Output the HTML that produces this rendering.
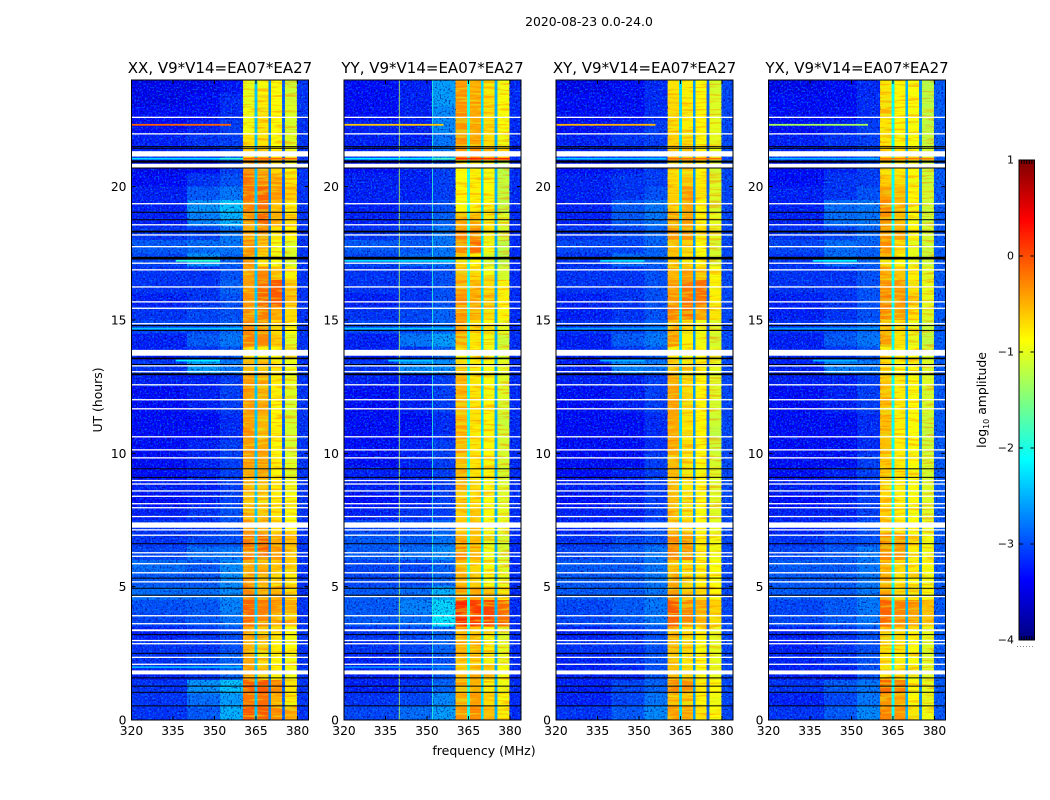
<!DOCTYPE html>
<html>
<head>
<meta charset="utf-8">
<title>2020-08-23 0.0-24.0</title>
<style>
html,body{margin:0;padding:0;background:#fff;}
svg{display:block;}
text{font-family:"DejaVu Sans","Liberation Sans",sans-serif;fill:#000;}
</style>
</head>
<body>
<svg id="chart" xmlns="http://www.w3.org/2000/svg" width="1050" height="800" viewBox="0 0 1050 800">
<defs>
<filter id="speckle-dark" x="0" y="0" width="1" height="1" color-interpolation-filters="sRGB">
<feTurbulence type="fractalNoise" baseFrequency="0.55" numOctaves="2" seed="4"/>
<feColorMatrix type="matrix" values="0 0 0 0 0  0 0 0 0 0  0 0 0 0 0.45  6 0 0 0 -3.2"/>
</filter>
<filter id="speckle-light" x="0" y="0" width="1" height="1" color-interpolation-filters="sRGB">
<feTurbulence type="fractalNoise" baseFrequency="0.55" numOctaves="2" seed="11"/>
<feColorMatrix type="matrix" values="0 0 0 0 0  0 0 0 0 0.7  0 0 0 0 1  6 0 0 0 -3.2"/>
</filter>
<filter id="stripe-warm" x="0" y="0" width="1" height="1" color-interpolation-filters="sRGB">
<feTurbulence type="fractalNoise" baseFrequency="0.04 0.45" numOctaves="2" seed="7"/>
<feColorMatrix type="matrix" values="0 0 0 0 1  0 0 0 0 0.42  0 0 0 0 0  6 0 0 0 -3"/>
</filter>
<filter id="stripe-cool" x="0" y="0" width="1" height="1" color-interpolation-filters="sRGB">
<feTurbulence type="fractalNoise" baseFrequency="0.04 0.45" numOctaves="2" seed="19"/>
<feColorMatrix type="matrix" values="0 0 0 0 0.85  0 0 0 0 1  0 0 0 0 0.1  6 0 0 0 -3"/>
</filter>
</defs>
<rect width="1050" height="800" fill="#fff"/>
<text x="589" y="26" font-size="12.4" text-anchor="middle">2020-08-23 0.0-24.0</text>
<text x="484" y="755" font-size="12.5" text-anchor="middle">frequency (MHz)</text>
<text transform="translate(102,400) rotate(-90)" font-size="12.4" text-anchor="middle">UT (hours)</text>
<g id="panels"></g>
<g id="colorbar"></g>
<text transform="translate(986,400) rotate(-90)" font-size="12.4" text-anchor="middle">log<tspan font-size="8" dy="3">10</tspan><tspan dy="-3"> amplitude</tspan></text>
</svg>
<script>
// Frequency channel edges (MHz): background, bands and the gaps between them
const freqEdges = [320, 340, 352, 360.4, 364.5, 365.5, 369.5, 370.5, 374.5, 375.5, 379.8, 384];
const freqTicks = [320, 335, 350, 365, 380];
const hourTicks = [0, 5, 10, 15, 20];
const colorTicks = [1, 0, -1, -2, -3, -4];
const panelTitles = ["XX, V9*V14=EA07*EA27", "YY, V9*V14=EA07*EA27", "XY, V9*V14=EA07*EA27", "YX, V9*V14=EA07*EA27"];

// log10 amplitude per half-hour row (0 h first): 320-340, 340-352, 352-360, band1, band2, band3, band4
const xxRows = [
[-3.15,-2.95,-2.5,-0.05,-0.05,-0.3,-0.45],[-3.15,-2.85,-2.6,-0.2,-0.15,-0.5,-0.8],[-3.15,-2.65,-2.4,-0.1,-0.05,-0.3,-0.75],[-3.25,-3.15,-2.9,-0.4,-0.6,-0.8,-0.95],
[-3.15,-3.05,-2.9,-0.45,-0.7,-0.85,-0.95],[-3.15,-3.15,-3.0,-0.5,-0.6,-0.8,-0.9],[-3.25,-3.15,-3.0,-0.45,-0.6,-0.75,-0.9],[-3.05,-2.95,-2.8,-0.15,-0.3,-0.5,-0.6],
[-3.0,-2.95,-2.75,-0.1,-0.25,-0.35,-0.45],[-2.85,-2.85,-2.7,-0.3,-0.5,-0.5,-0.7],[-2.95,-2.95,-2.7,-0.35,-0.5,-0.7,-0.8],[-2.85,-2.95,-2.7,-0.45,-0.5,-0.6,-0.7],
[-3.05,-2.85,-2.8,-0.25,-0.1,-0.4,-0.6],[-3.15,-3.05,-3.0,-0.2,-0.1,-0.45,-0.55],[-3.15,-3.15,-3.0,-0.4,-0.45,-0.7,-0.85],[-3.25,-3.15,-3.0,-0.5,-0.6,-0.75,-0.9],
[-3.35,-3.25,-3.1,-0.6,-0.65,-0.8,-0.9],[-3.25,-3.25,-3.1,-0.5,-0.6,-0.8,-0.95],[-3.35,-3.25,-3.1,-0.45,-0.45,-0.85,-1.05],[-3.35,-3.25,-3.1,-0.4,-0.45,-0.8,-1.05],
[-3.35,-3.25,-3.1,-0.4,-0.45,-0.85,-1.1],[-3.35,-3.35,-3.2,-0.35,-0.5,-0.8,-1.1],[-3.35,-3.35,-3.2,-0.4,-0.5,-0.85,-1.1],[-3.35,-3.25,-3.1,-0.35,-0.45,-0.85,-1.1],
[-3.35,-3.25,-3.1,-0.4,-0.45,-0.8,-1.05],[-3.25,-3.25,-3.1,-0.4,-0.5,-0.8,-1.0],[-3.15,-2.6,-2.8,-0.55,-0.6,-0.75,-0.95],[-3.25,-3.15,-3.0,-0.75,-0.8,-0.85,-1.0],
[-3.25,-2.95,-2.8,-0.25,-0.3,-0.6,-1.05],[-3.05,-3.05,-2.9,-0.3,-0.35,-0.7,-0.9],[-3.15,-3.05,-3.0,-0.35,-0.25,-0.45,-0.7],[-3.25,-3.15,-3.0,-0.35,-0.1,-0.05,-0.55],
[-3.15,-3.15,-2.9,-0.4,-0.15,-0.05,-0.6],[-3.15,-3.15,-3.0,-0.4,-0.3,-0.55,-0.8],[-3.05,-2.65,-2.9,-0.35,-0.75,-0.95,-1.1],[-2.95,-2.85,-2.8,-0.35,-0.6,-0.95,-1.05],
[-3.15,-3.05,-2.8,-0.45,-0.3,-0.75,-0.85],[-3.25,-2.75,-2.5,-0.35,-0.15,-0.45,-0.65],[-3.25,-2.65,-2.4,-0.25,-0.15,-0.55,-0.8],[-3.25,-2.95,-2.8,-0.2,-0.1,-0.4,-0.65],
[-3.35,-3.15,-3.0,-0.2,-0.3,-0.45,-0.75],[-3.45,-3.35,-3.1,-0.35,-0.4,-0.7,-0.9],[-3.25,-3.25,-3.1,-0.7,-0.6,-0.8,-1.0],[-3.25,-3.15,-3.1,-0.75,-0.75,-0.9,-1.05],
[-3.35,-3.25,-3.1,-0.95,-0.75,-0.9,-1.1],[-3.35,-3.35,-3.2,-0.95,-0.75,-0.85,-1.05],[-3.45,-3.35,-3.2,-1.0,-0.8,-0.9,-1.1],[-3.45,-3.45,-3.3,-1.0,-0.85,-0.9,-1.15]
];
const yyRows = [
[-3.05,-2.85,-2.6,-0.4,-0.3,-0.55,-0.8],[-3.15,-3.05,-2.7,-0.45,-0.4,-0.7,-0.9],[-3.25,-3.15,-2.9,-0.5,-0.5,-0.8,-0.95],[-3.25,-3.25,-3.0,-0.55,-0.45,-0.6,-0.9],
[-3.25,-3.15,-3.0,-0.6,-0.6,-0.8,-1.0],[-3.15,-3.05,-2.9,-0.5,-0.55,-0.8,-1.0],[-3.15,-3.05,-2.9,-0.5,-0.6,-0.85,-1.05],[-2.95,-2.85,-2.2,0.15,0.1,0.05,-0.1],
[-2.95,-2.75,-2.3,0.2,0.1,0.05,-0.15],[-2.95,-2.85,-2.5,-0.35,-0.45,-0.6,-0.75],[-3.05,-3.05,-2.9,-0.55,-0.65,-0.9,-1.0],[-3.05,-3.05,-2.9,-0.5,-0.7,-0.9,-1.05],
[-2.95,-2.85,-2.7,-0.35,-0.5,-0.95,-1.1],[-2.95,-2.95,-2.8,-0.45,-0.55,-1.0,-1.1],[-3.05,-3.05,-2.9,-0.6,-0.55,-0.85,-1.0],[-3.25,-3.15,-3.1,-0.65,-0.6,-0.85,-1.0],
[-3.35,-3.25,-3.1,-0.6,-0.7,-0.9,-1.05],[-3.25,-3.25,-3.1,-0.55,-0.7,-0.85,-1.05],[-3.25,-3.25,-3.1,-0.5,-0.75,-0.85,-1.1],[-3.35,-3.25,-3.1,-0.55,-0.75,-0.85,-1.1],
[-3.35,-3.25,-3.1,-0.5,-0.75,-0.85,-1.1],[-3.35,-3.35,-3.2,-0.55,-0.8,-0.85,-1.1],[-3.35,-3.35,-3.2,-0.55,-0.75,-0.85,-1.15],[-3.35,-3.25,-3.1,-0.55,-0.75,-0.85,-1.1],
[-3.35,-3.25,-3.1,-0.5,-0.75,-0.85,-1.05],[-3.25,-3.25,-3.1,-0.5,-0.75,-0.85,-1.05],[-3.15,-2.7,-2.7,-0.7,-0.8,-0.9,-1.0],[-3.25,-3.15,-2.9,-0.75,-0.85,-0.95,-1.1],
[-3.25,-2.8,-2.6,-0.45,-0.75,-0.95,-1.15],[-3.05,-3.05,-2.9,-0.45,-0.7,-0.85,-1.0],[-3.15,-3.05,-2.9,-0.4,-0.5,-0.7,-0.85],[-3.25,-3.15,-3.0,-0.35,-0.45,-0.6,-0.8],
[-3.15,-3.15,-3.0,-0.45,-0.5,-0.7,-0.8],[-3.15,-3.15,-3.0,-0.55,-0.7,-0.95,-1.1],[-3.05,-2.85,-2.8,-0.7,-0.85,-1.1,-1.25],[-2.95,-2.95,-2.8,-0.3,-0.15,-0.95,-1.25],
[-3.15,-3.05,-2.8,-0.35,-0.35,-0.75,-1.1],[-3.25,-3.15,-2.9,-0.5,-0.5,-0.75,-1.05],[-3.25,-3.15,-3.0,-0.85,-0.8,-0.85,-1.2],[-3.25,-3.25,-3.1,-0.85,-0.8,-0.85,-1.2],
[-3.25,-3.25,-3.1,-0.9,-0.8,-0.9,-1.2],[-3.35,-3.25,-3.1,-0.85,-0.8,-0.85,-1.25],[-3.25,-3.15,-2.8,-0.4,-0.35,-0.55,-0.75],[-3.25,-3.25,-2.8,-0.35,-0.45,-0.7,-0.95],
[-3.25,-3.25,-2.7,-0.35,-0.45,-0.7,-0.9],[-3.35,-3.25,-2.7,-0.35,-0.45,-0.7,-0.9],[-3.35,-3.25,-2.6,-0.35,-0.45,-0.7,-0.9],[-3.35,-3.25,-2.6,-0.4,-0.5,-0.75,-0.95]
];
const xyRows = [
[-3.15,-2.95,-2.7,-0.4,-0.5,-0.75,-0.9],[-3.25,-3.05,-2.8,-0.55,-0.6,-0.85,-0.95],[-3.25,-3.05,-2.9,-0.3,-0.35,-0.8,-0.9],[-3.25,-3.25,-3.0,-0.55,-0.7,-0.9,-1.0],
[-3.25,-3.15,-3.0,-0.6,-0.75,-0.85,-1.0],[-3.15,-3.15,-3.0,-0.55,-0.7,-0.9,-1.0],[-3.25,-3.15,-3.0,-0.5,-0.7,-0.85,-1.0],[-3.05,-2.95,-2.8,-0.1,-0.3,-0.5,-0.7],
[-3.05,-2.95,-2.8,-0.05,-0.3,-0.45,-0.65],[-2.95,-2.95,-2.8,-0.4,-0.6,-0.7,-0.85],[-2.95,-2.95,-2.8,-0.45,-0.7,-0.8,-0.9],[-2.95,-2.95,-2.8,-0.55,-0.7,-0.8,-0.9],
[-3.05,-2.95,-2.8,-0.3,-0.35,-0.8,-0.95],[-3.15,-3.05,-3.0,-0.3,-0.4,-0.8,-0.95],[-3.25,-3.15,-3.0,-0.55,-0.65,-0.85,-1.0],[-3.25,-3.25,-3.1,-0.55,-0.7,-0.9,-1.05],
[-3.35,-3.25,-3.1,-0.55,-0.75,-0.85,-1.05],[-3.25,-3.25,-3.1,-0.55,-0.75,-0.85,-1.05],[-3.35,-3.25,-3.1,-0.55,-0.75,-0.9,-1.05],[-3.35,-3.35,-3.1,-0.55,-0.75,-0.85,-1.1],
[-3.35,-3.35,-3.2,-0.45,-0.7,-0.85,-1.15],[-3.35,-3.35,-3.2,-0.45,-0.8,-0.85,-1.2],[-3.35,-3.35,-3.2,-0.45,-0.75,-0.85,-1.15],[-3.35,-3.25,-3.1,-0.4,-0.75,-0.85,-1.1],
[-3.35,-3.25,-3.1,-0.4,-0.7,-0.85,-1.05],[-3.25,-3.25,-3.1,-0.45,-0.7,-0.85,-1.05],[-3.25,-2.75,-2.8,-0.6,-0.75,-0.85,-1.0],[-3.25,-3.15,-3.0,-0.8,-0.85,-0.9,-1.0],
[-3.25,-2.95,-2.8,-0.4,-0.8,-0.95,-1.1],[-3.15,-3.05,-2.9,-0.5,-0.7,-0.95,-1.05],[-3.25,-3.15,-3.0,-0.3,-0.2,-0.45,-0.75],[-3.25,-3.15,-3.0,-0.35,-0.2,-0.2,-0.8],
[-3.15,-3.15,-3.0,-0.4,-0.2,-0.15,-0.8],[-3.15,-3.15,-3.0,-0.5,-0.4,-0.6,-0.9],[-3.15,-2.85,-2.9,-0.6,-0.75,-0.9,-1.1],[-3.05,-3.05,-2.9,-0.55,-0.65,-0.9,-1.1],
[-3.15,-3.05,-2.9,-0.4,-0.35,-0.8,-1.0],[-3.25,-2.95,-2.8,-0.45,-0.45,-0.85,-1.0],[-3.25,-2.95,-2.8,-0.65,-0.45,-0.85,-1.1],[-3.25,-3.15,-3.0,-0.65,-0.35,-0.75,-1.05],
[-3.25,-3.15,-3.1,-0.7,-0.55,-0.8,-1.05],[-3.35,-3.25,-3.1,-0.75,-0.7,-0.85,-1.1],[-3.25,-3.25,-3.1,-0.6,-0.6,-0.8,-1.0],[-3.25,-3.15,-3.1,-0.65,-0.75,-0.85,-1.0],
[-3.35,-3.25,-3.1,-0.7,-0.8,-0.85,-1.0],[-3.35,-3.35,-3.2,-0.7,-0.8,-0.85,-1.05],[-3.35,-3.35,-3.2,-0.7,-0.8,-0.85,-1.05],[-3.45,-3.35,-3.2,-0.75,-0.8,-0.9,-1.1]
];
const yxRows = [
[-3.15,-2.95,-2.7,-0.3,-0.35,-0.75,-0.95],[-3.25,-3.05,-2.8,-0.35,-0.45,-0.85,-1.0],[-3.15,-2.95,-2.8,-0.15,-0.25,-0.85,-1.0],[-3.25,-3.25,-3.0,-0.7,-0.75,-0.95,-1.05],
[-3.25,-3.15,-3.0,-0.75,-0.8,-0.9,-1.05],[-3.25,-3.15,-3.0,-0.7,-0.75,-0.9,-1.05],[-3.25,-3.15,-3.0,-0.6,-0.7,-0.85,-1.0],[-3.05,-2.95,-2.8,-0.15,-0.3,-0.45,-0.6],
[-3.05,-2.95,-2.8,-0.1,-0.25,-0.35,-0.55],[-2.95,-2.95,-2.8,-0.45,-0.7,-0.75,-0.85],[-2.95,-2.95,-2.8,-0.5,-0.75,-0.85,-0.95],[-2.95,-2.95,-2.8,-0.55,-0.7,-0.8,-0.9],
[-3.05,-2.95,-2.8,-0.3,-0.35,-0.8,-0.95],[-3.15,-3.05,-3.0,-0.3,-0.4,-0.75,-0.95],[-3.25,-3.15,-3.0,-0.6,-0.75,-0.85,-1.0],[-3.25,-3.25,-3.1,-0.65,-0.8,-0.9,-1.05],
[-3.35,-3.25,-3.1,-0.7,-0.8,-0.85,-1.05],[-3.25,-3.25,-3.1,-0.7,-0.8,-0.9,-1.05],[-3.35,-3.25,-3.1,-0.6,-0.75,-0.9,-1.1],[-3.35,-3.35,-3.1,-0.6,-0.8,-0.85,-1.1],
[-3.35,-3.35,-3.2,-0.55,-0.8,-0.9,-1.15],[-3.35,-3.35,-3.2,-0.55,-0.85,-0.9,-1.2],[-3.35,-3.35,-3.2,-0.55,-0.8,-0.9,-1.15],[-3.35,-3.25,-3.1,-0.55,-0.8,-0.9,-1.1],
[-3.35,-3.25,-3.1,-0.55,-0.8,-0.9,-1.1],[-3.25,-3.25,-3.1,-0.6,-0.8,-0.9,-1.05],[-3.25,-2.75,-2.8,-0.7,-0.85,-0.9,-1.05],[-3.25,-3.15,-3.0,-0.8,-0.85,-0.9,-1.1],
[-3.25,-2.95,-2.8,-0.4,-0.75,-1.0,-1.2],[-3.15,-3.05,-2.9,-0.55,-0.7,-0.95,-1.15],[-3.25,-3.15,-3.0,-0.3,-0.4,-0.75,-1.05],[-3.25,-3.15,-3.0,-0.25,-0.35,-0.6,-1.0],
[-3.15,-3.15,-3.0,-0.35,-0.35,-0.7,-1.0],[-3.15,-3.15,-3.0,-0.5,-0.6,-0.8,-1.05],[-3.15,-2.85,-2.9,-0.7,-0.85,-1.0,-1.15],[-3.05,-2.85,-2.9,-0.35,-0.7,-1.0,-1.15],
[-3.15,-3.05,-2.9,-0.4,-0.45,-0.85,-1.1],[-3.25,-2.85,-2.8,-0.35,-0.55,-0.9,-1.15],[-3.25,-2.85,-2.8,-0.3,-0.55,-0.9,-1.15],[-3.25,-3.15,-3.0,-0.4,-0.55,-0.85,-1.1],
[-3.35,-3.15,-3.1,-0.65,-0.7,-0.9,-1.15],[-3.35,-3.25,-3.1,-0.75,-0.8,-0.9,-1.15],[-3.25,-3.25,-3.1,-0.75,-0.8,-0.9,-1.1],[-3.25,-3.15,-3.1,-0.75,-0.85,-0.9,-1.2],
[-3.35,-3.25,-3.1,-0.75,-0.85,-0.9,-1.2],[-3.35,-3.35,-3.2,-0.7,-0.85,-0.9,-1.2],[-3.35,-3.35,-3.2,-0.7,-0.85,-0.9,-1.25],[-3.45,-3.35,-3.2,-0.75,-0.85,-0.9,-1.25]
];
// log10 amplitude of the three band gaps and of the 380-384 MHz strip, per panel
const gapValues = [[-2.4,-2.7,-2.9],[-2.0,-2.3,-2.5],[-2.3,-2.6,-2.9],[-2.1,-2.5,-2.7]];
const rightStrip = [-3.15, -3.2, -3.05, -2.95];

// Narrow-band streaks: hour, start MHz, end MHz, log10 amplitude
const xxStreaks = [[22.32,320,356,-0.1],[21.05,320,352,-2.3],[21.05,352,360.4,-1.9],[21.05,360.4,380,-0.1],[17.22,336,352,-1.9],[14.68,320,360,-2.4],[13.48,336,352,-2.2],[1.98,320,360,-2.5]];
const yyStreaks = [[22.32,320,356,-0.6],[21.05,320,352,-2.2],[21.05,352,360.4,-1.8],[21.05,360.4,380,0.2],[17.22,320,360,-2.3],[14.68,320,360,-2.4],[13.48,336,352,-2.4],[1.98,320,360,-2.7]];
const xyStreaks = [[22.32,320,356,-0.5],[21.05,320,360,-2.4],[21.05,360.4,380,-0.15],[17.22,336,352,-2.3],[14.68,320,360,-2.6],[13.48,336,352,-2.5]];
const yxStreaks = [[22.32,320,356,-1.3],[21.05,320,360,-2.5],[21.05,360.4,380,-0.2],[17.22,336,352,-2.2],[14.68,320,360,-2.6],[13.48,336,352,-2.5]];
// Persistent narrow frequency interference: MHz, log10 amplitude
const yyVerticalLines = [[340,-1.2],[352,-1.9]];

// Flagged data (hours): thin white lines, white blocks, thin black lines, black blocks
const whiteLineHours = [22.60,21.98,19.36,18.57,18.19,17.75,17.13,16.88,16.24,15.68,15.44,14.86,13.28,13.06,12.57,12.01,11.67,10.62,10.13,9.83,8.98,8.85,8.59,8.39,8.11,7.96,7.63,7.13,6.93,6.27,6.14,5.86,5.52,5.18,4.63,3.91,3.61,2.98,2.86,2.35,2.09];
const whiteBlocks = [[21.13,21.33],[20.71,20.86],[13.66,13.88],[7.21,7.41],[3.33,3.40],[1.71,1.86]];
const blackLineHours = [21.50,21.44,20.70,19.04,18.76,14.79,14.61,13.33,9.42,9.10,6.61,5.32,4.94,4.68,3.20,2.50,1.58,1.27,1.04,0.53];
const blackBlocks = [[20.90,20.98],[18.28,18.35],[17.27,17.37],[13.53,13.59],[12.93,13.00]];

const panelRows = [xxRows, yyRows, xyRows, yxRows];
const panelStreaks = [xxStreaks, yyStreaks, xyStreaks, yxStreaks];
const panelVerticals = [[], yyVerticalLines, [], []];
const textureRanges = [[320, 360.4], [379.8, 384]];
const bandRanges = [[360.4, 364.5], [365.5, 369.5], [370.5, 374.5], [375.5, 379.8]];

// Layout and scales
const NS = "http://www.w3.org/2000/svg";
const panelLeft = [131.5, 344, 556, 768.5];
const panelWidth = 177, plotTop = 80, plotBottom = 720;
const freqMin = 320, freqMax = 384, hourMax = 24;
const cMin = -4, cMax = 1, cbX = 1019, cbW = 15.5, cbTop = 160, cbBottom = 640;

function xScale(f, left) { return left + (f - freqMin) / (freqMax - freqMin) * panelWidth; }
function yScale(h) { return plotBottom - h / hourMax * (plotBottom - plotTop); }
function cScale(v) { return cbBottom - (v - cMin) / (cMax - cMin) * (cbBottom - cbTop); }
function jet(v) {
  const t = Math.max(0, Math.min(1, (v - cMin) / (cMax - cMin)));
  const c = x => Math.round(255 * Math.max(0, Math.min(1, x)));
  const r = Math.min(4 * t - 1.5, -4 * t + 4.5);
  const g = Math.min(4 * t - 0.5, -4 * t + 3.5);
  const b = Math.min(4 * t + 0.5, -4 * t + 2.5);
  return "rgb(" + c(r) + "," + c(g) + "," + c(b) + ")";
}
function make(tag, attrs, parent) {
  const el = document.createElementNS(NS, tag);
  for (const k in attrs) el.setAttribute(k, attrs[k]);
  parent.appendChild(el);
  return el;
}
function rowValues(p, row) {
  const g = gapValues[p];
  return [row[0], row[1], row[2], row[3], g[0], row[4], g[1], row[5], g[2], row[6], rightStrip[p]];
}

const panelsRoot = document.getElementById("panels");
panelTitles.forEach(function (title, p) {
  const left = panelLeft[p];
  const g = make("g", {}, panelsRoot);
  
  
  const clipId = "clip" + p;
  const defs = make("clipPath", { id: clipId }, g);
  make("rect", { x: left, y: plotTop, width: panelWidth, height: plotBottom - plotTop }, defs);
  const plot = make("g", { "clip-path": "url(#" + clipId + ")" }, g);

  panelRows[p].forEach(function (row, r) {
    const vals = rowValues(p, row);
    const y1 = yScale((r + 1) / 2), y0 = yScale(r / 2);
    vals.forEach(function (v, c) {
      const x0 = xScale(freqEdges[c], left), x1 = xScale(freqEdges[c + 1], left);
      const cell = make("rect", { x: x0, y: y1, width: x1 - x0, height: y0 - y1, fill: jet(v), "shape-rendering": "crispEdges" }, plot);
      
      
    });
  });

  textureRanges.forEach(function (range) {
    const x0 = xScale(range[0], left), w = xScale(range[1], left) - x0;
    const dark = make("rect", { x: x0, y: plotTop, width: w, height: plotBottom - plotTop, filter: "url(#speckle-dark)", opacity: 0.6 }, plot);
    
    
    const light = make("rect", { x: x0, y: plotTop, width: w, height: plotBottom - plotTop, filter: "url(#speckle-light)", opacity: 0.45 }, plot);
    
    
  });
  bandRanges.forEach(function (range) {
    const x0 = xScale(range[0], left), w = xScale(range[1], left) - x0;
    const warm = make("rect", { x: x0, y: plotTop, width: w, height: plotBottom - plotTop, filter: "url(#stripe-warm)", opacity: 0.4 }, plot);
    
    
    const cool = make("rect", { x: x0, y: plotTop, width: w, height: plotBottom - plotTop, filter: "url(#stripe-cool)", opacity: 0.45 }, plot);
    
    
  });

  panelVerticals[p].forEach(function (line) {
    const vl = make("rect", { x: xScale(line[0], left) - 0.5, y: plotTop, width: 1, height: plotBottom - plotTop, fill: jet(line[1]), opacity: 0.8 }, plot);
    
    
  });
  panelStreaks[p].forEach(function (s) {
    const st = make("rect", { x: xScale(s[1], left), y: yScale(s[0]) - 0.9, width: xScale(s[2], left) - xScale(s[1], left), height: 1.8, fill: jet(s[3]) }, plot);
    
    
  });

  whiteBlocks.forEach(function (b) {
    const el = make("rect", { x: left, y: yScale(b[1]), width: panelWidth, height: yScale(b[0]) - yScale(b[1]), fill: "#fff" }, plot);
    
    
  });
  whiteLineHours.forEach(function (h) {
    const el = make("rect", { x: left, y: yScale(h) - 0.65, width: panelWidth, height: 1.3, fill: "#fff" }, plot);
    
    
  });
  blackBlocks.forEach(function (b) {
    const el = make("rect", { x: left, y: yScale(b[1]), width: panelWidth, height: yScale(b[0]) - yScale(b[1]), fill: "#000" }, plot);
    
    
  });
  blackLineHours.forEach(function (h) {
    const el = make("rect", { x: left, y: yScale(h) - 0.5, width: panelWidth, height: 1, fill: "#000" }, plot);
    
    
  });

  const frame = make("rect", { x: left, y: plotTop, width: panelWidth, height: plotBottom - plotTop, fill: "none", stroke: "#000", "stroke-width": 1 }, g);
  
  

  const titleEl = make("text", { x: left + panelWidth / 2, y: 73, "font-size": 15, "text-anchor": "middle" }, g);
  titleEl.textContent = title;
  
  

  freqTicks.forEach(function (f) {
    const x = xScale(f, left);
    const t1 = make("path", { d: "M" + x + " " + plotBottom + "v-4M" + x + " " + plotTop + "v4", stroke: "#000", "stroke-width": 1, fill: "none" }, g);
    
    
    const lab = make("text", { x: x, y: 735, "font-size": 12.3, "text-anchor": "middle" }, g);
    lab.textContent = f;
    
    
  });
  hourTicks.forEach(function (h) {
    const y = yScale(h);
    const t2 = make("path", { d: "M" + left + " " + y + "h4M" + (left + panelWidth) + " " + y + "h-4", stroke: "#000", "stroke-width": 1, fill: "none" }, g);
    
    
    const lab = make("text", { x: left - 5, y: y + 4.5, "font-size": 12.3, "text-anchor": "end" }, g);
    lab.textContent = h;
    
    
  });
});

// Colour bar
const cbRoot = document.getElementById("colorbar");
for (let py = cbTop; py < cbBottom; py += 2) {
  const v = cMin + (cbBottom - py - 1) / (cbBottom - cbTop) * (cMax - cMin);
  const strip = make("rect", { x: cbX, y: py, width: cbW, height: 2.2, fill: jet(v), "shape-rendering": "crispEdges" }, cbRoot);
  
  
}
const cbFrame = make("rect", { x: cbX, y: cbTop, width: cbW, height: cbBottom - cbTop, fill: "none", stroke: "#000", "stroke-width": 1 }, cbRoot);


for (let i = 1; i <= 5; i++) {
  const tx = cbX + i * cbW / 6;
  const edgeTick = make("path", { d: "M" + tx + " " + cbTop + "v4M" + tx + " " + cbBottom + "v-4", stroke: "#000", "stroke-width": 1, fill: "none" }, cbRoot);
  
  
}
colorTicks.forEach(function (v) {
  const y = cScale(v);
  const t = make("path", { d: "M" + cbX + " " + y + "h4M" + (cbX + cbW) + " " + y + "h-4", stroke: "#000", "stroke-width": 1, fill: "none" }, cbRoot);
  
  
  const lab = make("text", { x: cbX - 5, y: y + 3.5, "font-size": 11, "text-anchor": "end" }, cbRoot);
  lab.textContent = String(v).replace("-", "\u2212");
  
  
});
const dots = make("line", { x1: 1017, y1: 646.5, x2: 1035, y2: 646.5, stroke: "#888", "stroke-width": 1, "stroke-dasharray": "1 2" }, cbRoot);


</script>
</body>
</html>
